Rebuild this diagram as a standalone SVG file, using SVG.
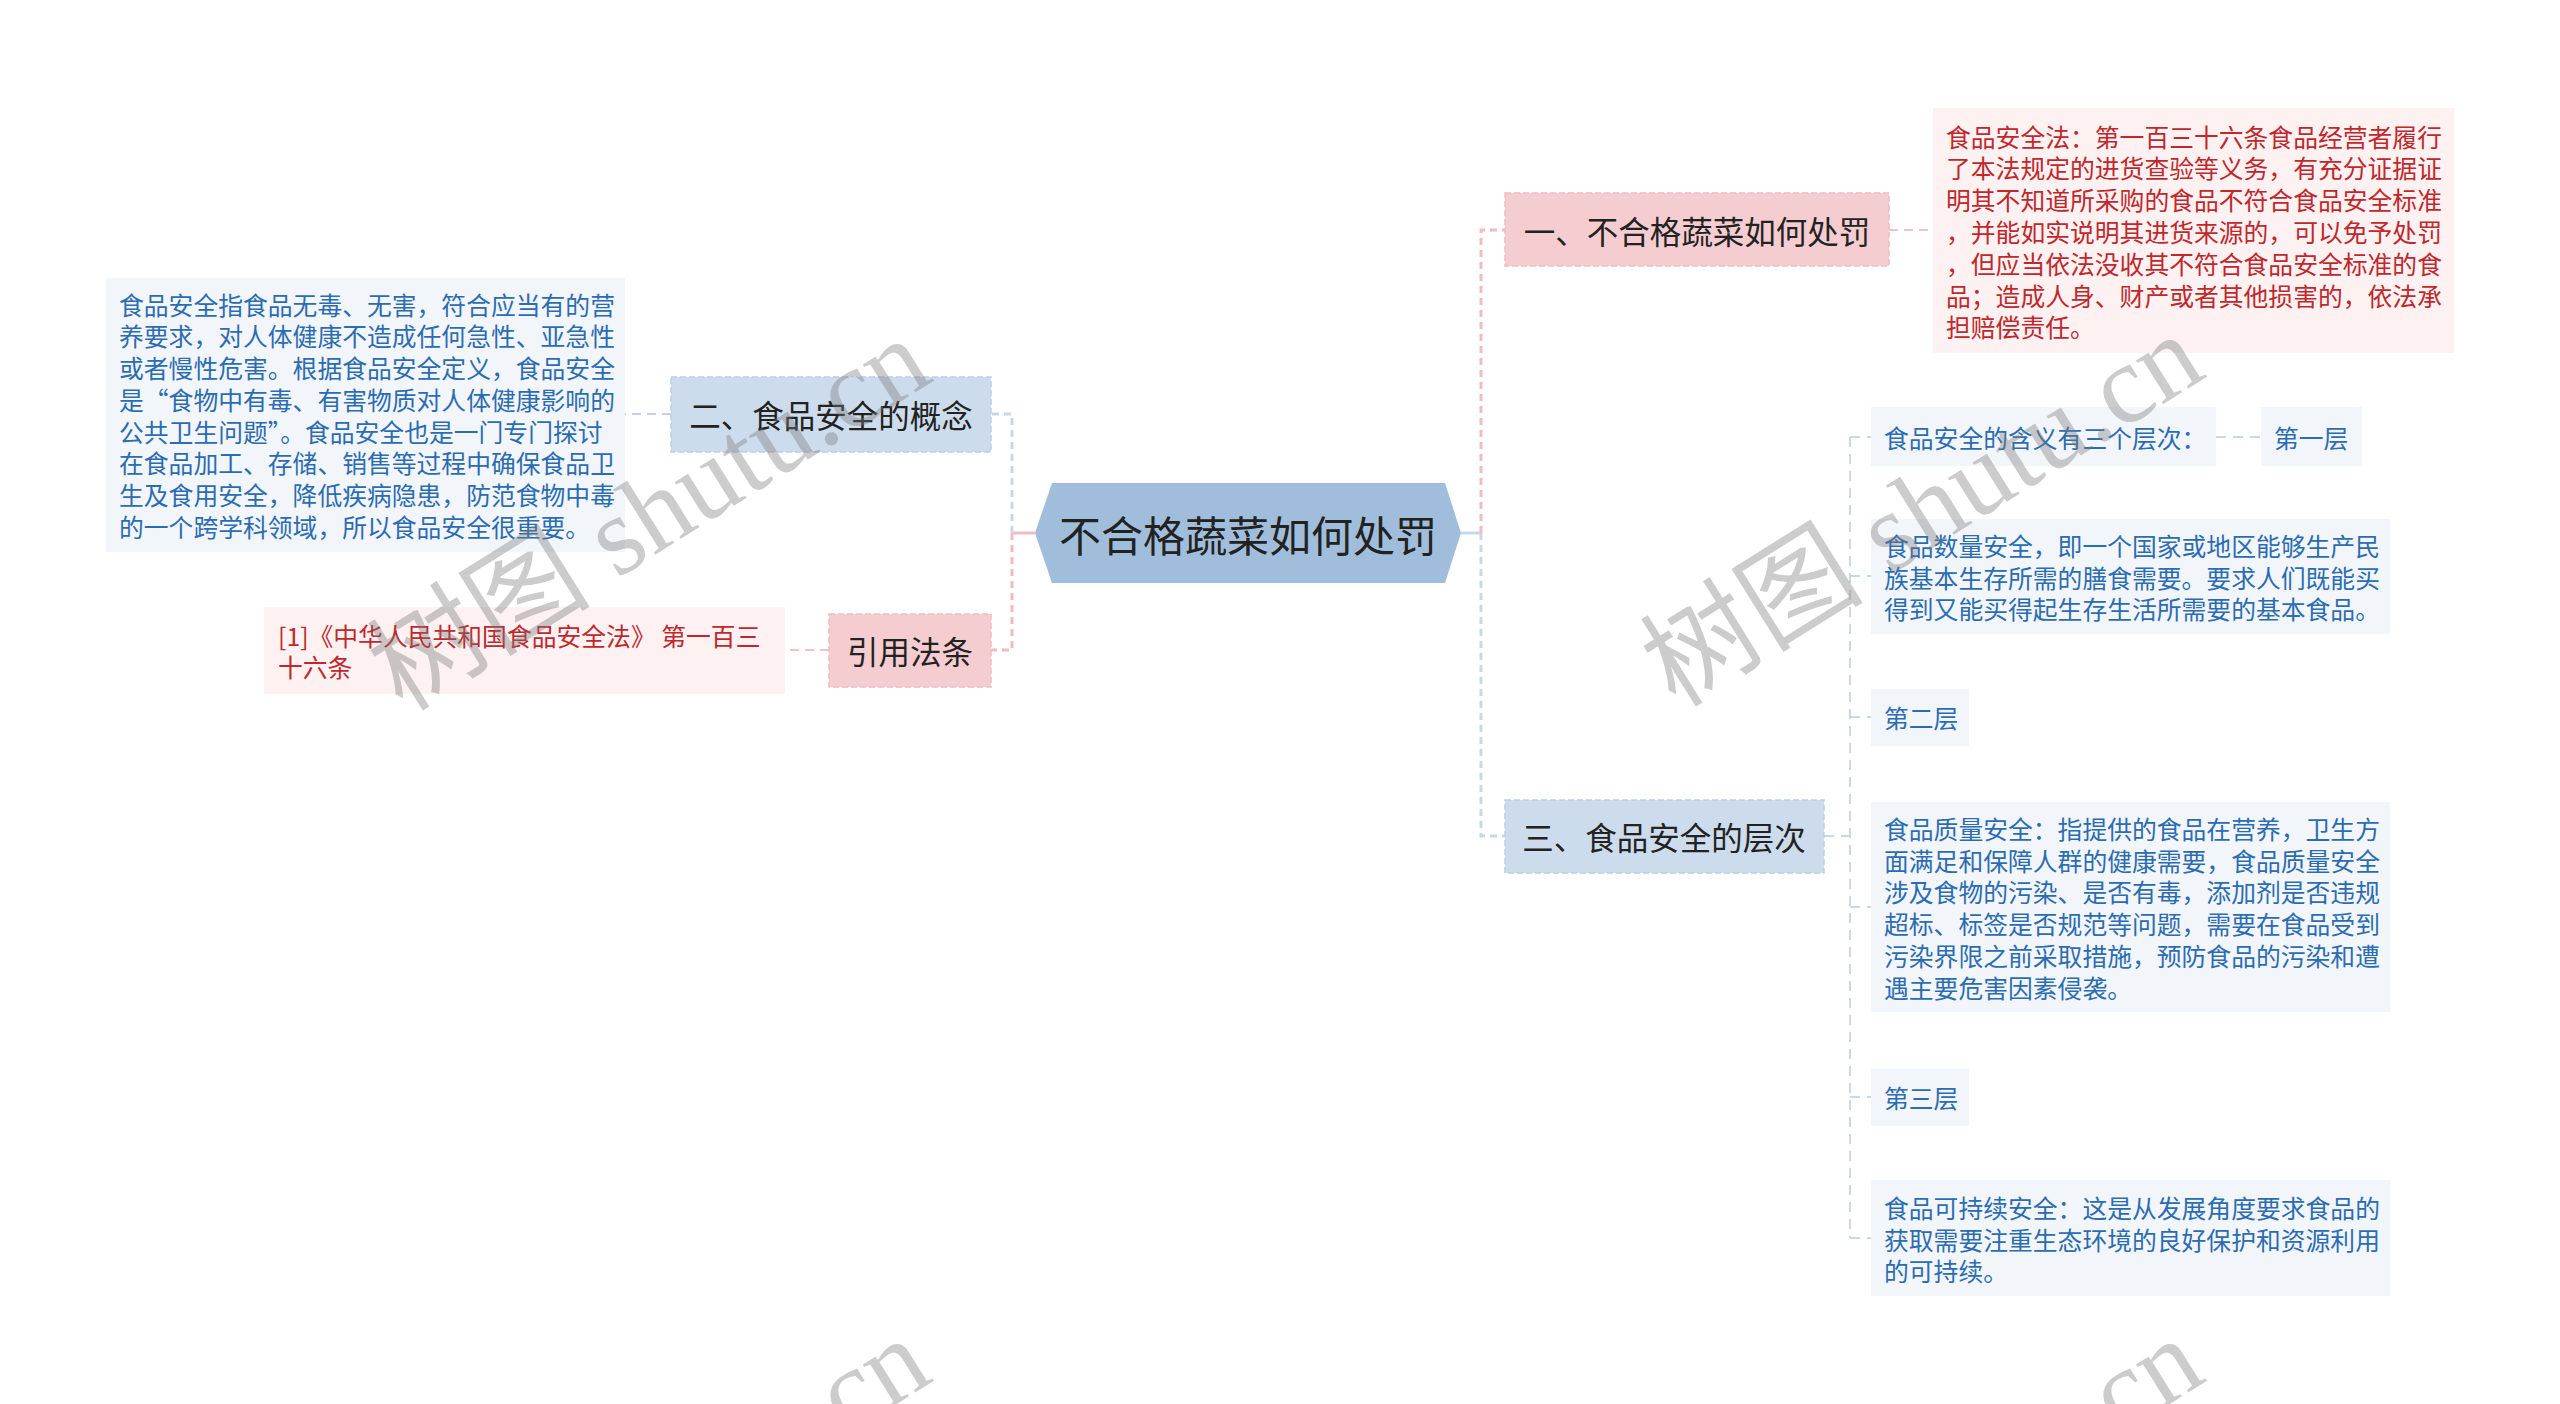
<svg xmlns="http://www.w3.org/2000/svg" width="2560" height="1404" viewBox="0 0 2560 1404">
<style>
text{font-family:"Noto Sans CJK SC","Noto Sans",sans-serif;dominant-baseline:central}
.root{font-size:42px;fill:#222;text-anchor:middle}
.mid{font-size:31.5px;fill:#222;text-anchor:middle}
.pinkN{fill:#f5cdd0;stroke:#efbcc0;stroke-width:1.5;stroke-dasharray:6 3}
.blueN{fill:#cddcec;stroke:#bccfe3;stroke-width:1.5;stroke-dasharray:6 3}
.redBox{fill:#fdf1f1}
.blueBox{fill:#f2f6fb}
.redT{font-size:24.8px;fill:#c0282d}
.blueT{font-size:24.8px;fill:#2b6cb2}
.cp{fill:none;stroke:#f0bcc0;stroke-width:3;stroke-dasharray:7 5}
.cb{fill:none;stroke:#c9d8e8;stroke-width:3;stroke-dasharray:7 5}
.tp{fill:none;stroke:#f0c4c7;stroke-width:2;stroke-dasharray:9 6}
.tb{fill:none;stroke:#c4d3e3;stroke-width:2;stroke-dasharray:9 6}
.thin{fill:none;stroke:#bccbdc;stroke-width:1.5;stroke-dasharray:10 7}
.wm{font-family:"Liberation Serif","Noto Sans CJK SC",serif;font-size:112px;fill:#7a7a7a;opacity:0.38;text-anchor:middle;dominant-baseline:central}
</style>

<g id="connectors">
  <!-- root right -->
  <line x1="1461" y1="533" x2="1481" y2="533" stroke="#c9d8e8" stroke-width="3"/>
  <path class="cp" d="M1481 533 V230 H1505"/>
  <path class="cb" d="M1481 533 V836 H1505"/>
  <!-- root left -->
  <line x1="1035" y1="533" x2="1012" y2="533" stroke="#f0bcc0" stroke-width="3"/>
  <path class="cb" d="M1012 533 V414 H991"/>
  <path class="cp" d="M1012 533 V650 H991"/>
  <!-- to details -->
  <path class="tp" d="M1889 230 H1933"/>
  <path class="tb" d="M671 414 H625"/>
  <path class="tp" d="M829 650 H785"/>
  <!-- 三 subtree -->
  <path class="thin" d="M1824 836 H1850"/>
  <path class="thin" d="M1850 437 V1238"/>
  <path class="thin" d="M1850 437 H1871 M1850 576 H1871 M1850 717 H1871 M1850 907 H1871 M1850 1097 H1871 M1850 1238 H1871"/>
  <path class="thin" d="M2216 437 H2261"/>
</g>

<g id="root">
  <polygon points="1035,533 1052,483 1445,483 1461,533 1445,583 1052,583" fill="#a0bedb"/>
  <text class="root" x="1248" y="533">不合格蔬菜如何处罚</text>
</g>

<g id="n1">
  <rect class="pinkN" x="1505" y="193" width="384" height="73"/>
  <text class="mid" x="1697" y="230">一、不合格蔬菜如何处罚</text>
</g>

<g id="n1-detail">
  <rect class="redBox" x="1933" y="108" width="521" height="245"/>
  <text class="redT" x="1946" y="135.5">食品安全法：第一百三十六条食品经营者履行</text>
  <text class="redT" x="1946" y="167.3">了本法规定的进货查验等义务，有充分证据证</text>
  <text class="redT" x="1946" y="199.1">明其不知道所采购的食品不符合食品安全标准</text>
  <text class="redT" x="1946" y="230.9">，并能如实说明其进货来源的，可以免予处罚</text>
  <text class="redT" x="1946" y="262.7">，但应当依法没收其不符合食品安全标准的食</text>
  <text class="redT" x="1946" y="294.5">品；造成人身、财产或者其他损害的，依法承</text>
  <text class="redT" x="1946" y="326.3">担赔偿责任。</text>
</g>

<g id="n2">
  <rect class="blueN" x="671" y="377" width="320" height="75"/>
  <text class="mid" x="831" y="414">二、食品安全的概念</text>
</g>

<g id="n2-detail">
  <rect class="blueBox" x="106" y="278" width="519" height="274"/>
  <text class="blueT" x="119" y="303.7">食品安全指食品无毒、无害，符合应当有的营</text>
  <text class="blueT" x="119" y="335.4">养要求，对人体健康不造成任何急性、亚急性</text>
  <text class="blueT" x="119" y="367.1">或者慢性危害。根据食品安全定义，食品安全</text>
  <text class="blueT" x="119" y="398.8">是“食物中有毒、有害物质对人体健康影响的</text>
  <text class="blueT" x="119" y="430.5">公共卫生问题”。食品安全也是一门专门探讨</text>
  <text class="blueT" x="119" y="462.2">在食品加工、存储、销售等过程中确保食品卫</text>
  <text class="blueT" x="119" y="493.9">生及食用安全，降低疾病隐患，防范食物中毒</text>
  <text class="blueT" x="119" y="525.6">的一个跨学科领域，所以食品安全很重要。</text>
</g>

<g id="n-ref">
  <rect class="pinkN" x="829" y="614" width="162" height="73"/>
  <text class="mid" x="910" y="650">引用法条</text>
</g>

<g id="n-ref-detail">
  <rect class="redBox" x="264" y="607" width="521" height="87"/>
  <text class="redT" x="278" y="635">[1]《中华人民共和国食品安全法》 第一百三</text>
  <text class="redT" x="278" y="666">十六条</text>
</g>

<g id="n3">
  <rect class="blueN" x="1505" y="800" width="319" height="73"/>
  <text class="mid" x="1664" y="836">三、食品安全的层次</text>
</g>

<g id="n3-a">
  <rect class="blueBox" x="1871" y="407" width="345" height="59"/>
  <text class="blueT" x="1884" y="437">食品安全的含义有三个层次：</text>
</g>

<g id="n3-a1">
  <rect class="blueBox" x="2261" y="407" width="101" height="59"/>
  <text class="blueT" x="2274" y="437">第一层</text>
</g>

<g id="n3-b">
  <rect class="blueBox" x="1871" y="519" width="519" height="115"/>
  <text class="blueT" x="1884" y="545">食品数量安全，即一个国家或地区能够生产民</text>
  <text class="blueT" x="1884" y="576.5">族基本生存所需的膳食需要。要求人们既能买</text>
  <text class="blueT" x="1884" y="608">得到又能买得起生存生活所需要的基本食品。</text>
</g>

<g id="n3-c">
  <rect class="blueBox" x="1871" y="689" width="98" height="57"/>
  <text class="blueT" x="1884" y="717">第二层</text>
</g>

<g id="n3-d">
  <rect class="blueBox" x="1871" y="802" width="519" height="210"/>
  <text class="blueT" x="1884" y="828">食品质量安全：指提供的食品在营养，卫生方</text>
  <text class="blueT" x="1884" y="859.7">面满足和保障人群的健康需要，食品质量安全</text>
  <text class="blueT" x="1884" y="891.4">涉及食物的污染、是否有毒，添加剂是否违规</text>
  <text class="blueT" x="1884" y="923.1">超标、标签是否规范等问题，需要在食品受到</text>
  <text class="blueT" x="1884" y="954.8">污染界限之前采取措施，预防食品的污染和遭</text>
  <text class="blueT" x="1884" y="986.5">遇主要危害因素侵袭。</text>
</g>

<g id="n3-e">
  <rect class="blueBox" x="1871" y="1069" width="98" height="57"/>
  <text class="blueT" x="1884" y="1097">第三层</text>
</g>

<g id="n3-f">
  <rect class="blueBox" x="1871" y="1180" width="519" height="116"/>
  <text class="blueT" x="1884" y="1207">食品可持续安全：这是从发展角度要求食品的</text>
  <text class="blueT" x="1884" y="1238.5">获取需要注重生态环境的良好保护和资源利用</text>
  <text class="blueT" x="1884" y="1270">的可持续。</text>
</g>

<g id="watermarks">
  <text class="wm" transform="translate(649,514) rotate(-32)">树图 shutu.cn</text>
  <text class="wm" transform="translate(1922,510) rotate(-32)">树图 shutu.cn</text>
  <text class="wm" transform="translate(649,1514) rotate(-32)">树图 shutu.cn</text>
  <text class="wm" transform="translate(1922,1514) rotate(-32)">树图 shutu.cn</text>
</g>
</svg>
